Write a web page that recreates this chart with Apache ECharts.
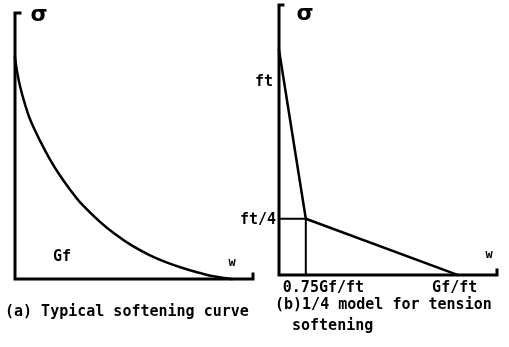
<!DOCTYPE html>
<html><head><meta charset="utf-8">
<script src="https://cdn.jsdelivr.net/npm/echarts@6/dist/echarts.min.js"></script>
<style>html,body{margin:0;padding:0;background:#fff}#c{width:509px;height:347px}</style>
</head><body><div id="c"></div>
<script>
// (a) typical softening curve: normalized crack opening w, stress sigma/ft
const curveW = [0, 0.009, 0.023, 0.046, 0.069, 0.116, 0.162, 0.208, 0.254, 0.300, 0.393, 0.462, 0.545, 0.624, 0.703, 0.786, 0.855, 0.924, 1.0];
const curveS = [1.0, 0.938, 0.871, 0.789, 0.722, 0.623, 0.539, 0.467, 0.404, 0.347, 0.258, 0.203, 0.148, 0.107, 0.074, 0.046, 0.027, 0.011, 0];
// (b) 1/4 bilinear model
const modelW = [0, 0.15, 1.0];
const modelS = [1.0, 0.25, 0];
// tick labels of panel (b)
const xTickValues = [0.15, 1.0];
const xTickLabels = ['0.75Gf/ft', 'Gf/ft'];
const yTickValues = [0.86, 0.25];
const yTickLabels = ['ft', 'ft/4'];
// captions / axis names
const captionA = '(a) Typical softening curve';
const captionB = ['(b)1/4 model for tension', 'softening'];
const areaLabelA = 'Gf';
const yName = 'σ';
const xName = 'w';
// axis ranges
const xMaxA = 1.1, yMaxA = 1.2;
const xMaxB = 1.22, yMaxB = 1.2;

const zip = (a, b) => a.map((v, i) => [v, b[i]]);
const chart = echarts.init(document.getElementById('c'), null, {renderer: 'canvas'});
const black = '#000';
const lineS = (name, data, xi, w, smooth) => ({
  name, type: 'line', xAxisIndex: xi, yAxisIndex: xi, data, showSymbol: false, symbol: 'none',
  smooth: smooth || false, clip: false, silent: true, animation: false,
  lineStyle: {color: black, width: w, cap: 'square', join: 'miter'}
});
const tA = 0.023, tB = 0.022;
chart.setOption({
  animation: false,
  grid: [
    {left: 15, top: 13, width: 238, height: 266},
    {left: 279, top: 5, width: 218, height: 270}
  ],
  xAxis: [
    {gridIndex: 0, type: 'value', min: 0, max: xMaxA, show: false},
    {gridIndex: 1, type: 'value', min: 0, max: xMaxB, show: false}
  ],
  yAxis: [
    {gridIndex: 0, type: 'value', min: 0, max: yMaxA, show: false},
    {gridIndex: 1, type: 'value', min: 0, max: yMaxB, show: false}
  ],
  series: [
    lineS('frameA', [[tA, yMaxA], [0, yMaxA], [0, 0], [xMaxA, 0], [xMaxA, tA]], 0, 3),
    lineS('curve', zip(curveW, curveS), 0, 2.5, 0.4),
    lineS('frameB', [[tB, yMaxB], [0, yMaxB], [0, 0], [xMaxB, 0], [xMaxB, tB]], 1, 3),
    lineS('guide', [[0, modelS[1]], [modelW[1], modelS[1]], [modelW[1], 0]], 1, 2),
    lineS('model', zip(modelW, modelS), 1, 2.5)
  ]
});

const font = 'bold 15px "DejaVu Sans Mono"';
const txt = (text, x, y, align, f) => ({
  type: 'text', silent: true,
  style: {text, x, y, fill: black, font: f || font, align: align || 'left', verticalAlign: 'middle'}
});
const els = [];
// x tick labels (b)
const xOff = [[-23, 'left'], [-3, 'center']];
xTickValues.forEach((v, i) => {
  const p = chart.convertToPixel({gridIndex: 1}, [v, 0]);
  els.push(txt(xTickLabels[i], p[0] + xOff[i][0], p[1] + 13, xOff[i][1]));
});
// y tick labels (b)
const yOff = [-6, -3];
yTickValues.forEach((v, i) => {
  const p = chart.convertToPixel({gridIndex: 1}, [0, v]);
  els.push(txt(yTickLabels[i], p[0] + yOff[i], p[1] + 1, 'right'));
});
// sigma labels
const sf = 'bold 22px "DejaVu Sans"';
let p = chart.convertToPixel({gridIndex: 0}, [0, yMaxA]);
els.push(txt(yName, p[0] + 24, p[1] + 2, 'center', sf));
p = chart.convertToPixel({gridIndex: 1}, [0, yMaxB]);
els.push(txt(yName, p[0] + 26, p[1] + 9, 'center', sf));
// w labels
const wf = 'bold 12px "DejaVu Sans Mono"';
p = chart.convertToPixel({gridIndex: 0}, [xMaxA, 0]);
els.push(txt(xName, p[0] - 21, p[1] - 16, 'center', wf));
p = chart.convertToPixel({gridIndex: 1}, [xMaxB, 0]);
els.push(txt(xName, p[0] - 8, p[1] - 20, 'center', wf));
// Gf inside area
els.push(txt(areaLabelA, 62, 257, 'center'));
// captions
els.push(txt(captionA, 5, 312, 'left'));
els.push(txt(captionB[0], 275, 305, 'left'));
els.push(txt(captionB[1], 292, 326, 'left'));
chart.setOption({graphic: {elements: els}});
</script></body></html>
